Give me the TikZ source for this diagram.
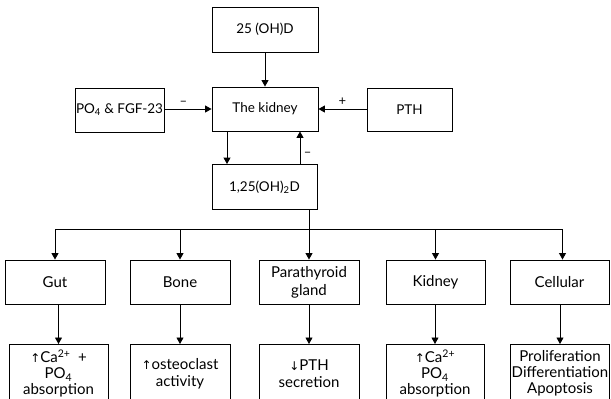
\documentclass[tikz,border=0pt]{standalone}
\usepackage{fontspec}
\setmainfont{Lato}
\newfontfamily\symfont{DejaVu Sans}
\usetikzlibrary{arrows.meta,positioning}

\newcommand{\up}{{\symfont\fontsize{12}{14}\selectfont ↑}}
\newcommand{\down}{{\symfont\fontsize{12}{14}\selectfont ↓}}

\begin{document}
\begin{tikzpicture}[
  x=1pt, y=1pt,
  font=\fontsize{13.5}{16}\selectfont,
  box/.style={draw, line width=0.9pt, align=center, minimum width=100pt,
              minimum height=44pt, inner sep=1pt},
  organ/.style={box, font=\fontsize{15}{18}\selectfont},
  resbox/.style={box, font=\fontsize{15}{18}\selectfont, minimum height=58pt,
                 anchor=north, yshift=-1pt},
  arrow/.style={-{Triangle[length=6.5pt, width=7pt]}, line width=0.9pt},
  sign/.style={font=\fontsize{13}{15}\selectfont}
]
\useasboundingbox (0,0) rectangle (611,-399);
\clip (0,0) rectangle (611,-399);
\node[box, minimum width=106pt, minimum height=45pt] (d25) at (265,-29.5) {25 (OH)D};
\node[box, minimum width=106pt] (kidney) at (265,-109) {The kidney};
\node[box, minimum width=85pt] (po4) at (119.5,-110) {PO\textsubscript{4} \& FGF-23};
\node[box, minimum width=85pt, minimum height=43pt] (pth) at (409.5,-109.5) {PTH};
\node[box, minimum width=105pt, minimum height=45pt] (d125) at (264.5,-187) {1,25(OH)\textsubscript{2}D};
\draw[arrow] (d25) -- (kidney);
\draw[arrow] (po4.east |- kidney) -- node[sign, above, pos=0.4] {--} (kidney.west);
\draw[arrow] (pth.west |- kidney) -- node[sign, above, pos=0.5] {+} (kidney.east);
\draw[arrow] ([xshift=-38pt]kidney.south) -- ([xshift=-37.5pt]d125.north);
\draw[arrow] ([xshift=35.5pt]d125.north) -- node[sign, right, pos=0.3] {--} ([xshift=35pt]kidney.south);
% targets
\node[organ] (gut) at (55,-282) {Gut};
\node[organ] (bone) at (180,-282) {Bone};
\node[organ] (para) at (309,-282) {Parathyroid\\gland};
\node[organ, minimum width=99pt] (kid) at (435.5,-282) {Kidney};
\node[organ, minimum width=99pt] (cell) at (559.5,-282) {Cellular};
\coordinate (split) at (309,-229);
\draw[line width=0.9pt] (d125.south -| split) -- (split);
\draw[arrow] (split) -| (gut.north);
\draw[arrow] (split) -| (bone.north);
\draw[arrow] (split) -- (para.north);
\draw[arrow] (split) -| (kid.north);
\draw[arrow] (split) -| ([xshift=3pt]cell.north);
% effects
\node[resbox, minimum width=99pt] (gutr) at (58.5,-343) {\up Ca\textsuperscript{2+}\enspace+\\[-2pt]PO\textsubscript{4}\\[-2pt]absorption};
\node[resbox] (boner) at (180,-343) {\up osteoclast\\[-1pt]activity};
\node[resbox] (parar) at (309,-343) {\down PTH\\[-1pt]secretion};
\node[resbox, minimum width=98pt] (kidr) at (435,-343) {\up Ca\textsuperscript{2+}\\[-2pt]PO\textsubscript{4}\\[-2pt]absorption};
\node[resbox, minimum width=98pt] (cellr) at (560,-343) {Proliferation\\[-2pt]Differentiation\\[-2pt]Apoptosis};
\draw[arrow] (gut.south -| gutr) -- (gutr.north);
\draw[arrow] (bone) -- (boner);
\draw[arrow] (para) -- (parar);
\draw[arrow] (kid.south -| kidr) -- (kidr.north);
\draw[arrow] (cell.south -| cellr) -- (cellr.north);
\end{tikzpicture}
\end{document}
